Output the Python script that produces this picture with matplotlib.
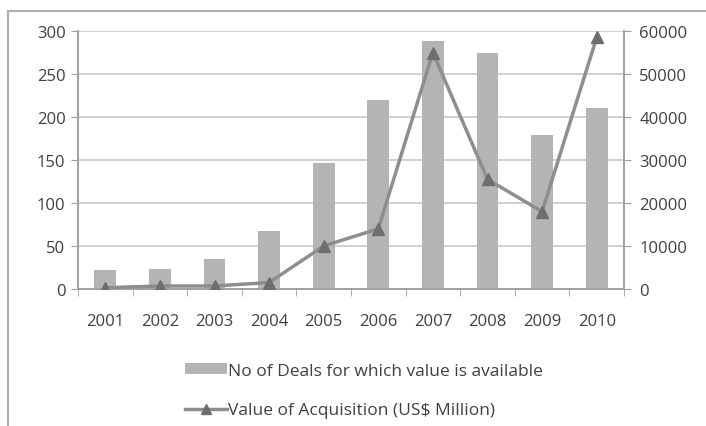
import matplotlib.pyplot as plt
import matplotlib as mpl
from matplotlib.patches import Rectangle
import numpy as np

# data
years = ['2001', '2002', '2003', '2004', '2005', '2006', '2007', '2008', '2009', '2010']
deals = [22, 23, 35, 68, 147, 220, 288, 275, 179, 210]
value = [300, 700, 700, 1500, 10000, 14000, 55000, 25500, 18000, 58500]
left_ticks = [0, 50, 100, 150, 200, 250, 300]
right_ticks = [0, 10000, 20000, 30000, 40000, 50000, 60000]

plt.rcParams['font.family'] = ['Open Sans', 'DejaVu Sans']
plt.rcParams['font.size'] = 12

bar_col = '#b4b4b4'
line_col = '#8e8e8e'
mark_col = '#6e6e6e'
axis_col = '#a0a0a0'
text_col = '#404040'

fig = plt.figure(figsize=(7.06, 4.27), dpi=100)
ax = fig.add_axes([78 / 706, 1 - 290 / 427, 546 / 706, 258 / 427])
ax2 = ax.twinx()

x = np.arange(len(years))
ax.bar(x, deals, width=0.4, color=bar_col, zorder=2, label='No of Deals for which value is available')
ax2.plot(x, value, color=line_col, lw=2.5, marker='^', ms=8.5, mfc=mark_col, mec=mark_col,
         label='Value of Acquisition (US$ Million)', zorder=3)

ax.set_xlim(-0.5, len(years) - 0.5)
ax.set_ylim(0, 300)
ax2.set_ylim(0, 60000)
ax.set_yticks(left_ticks)
ax2.set_yticks(right_ticks)
ax.yaxis.grid(True, color='#c8c8c8', lw=1.2, zorder=0)
ax.set_axisbelow(True)

ax.set_xticks(x)
ax.set_xticklabels(years)
ax.set_xticks(np.arange(-0.5, len(years), 1), minor=True)
ax.tick_params(axis='x', which='major', length=0, pad=17, colors=text_col, labelsize=12)
ax.tick_params(axis='x', which='minor', length=5, color=axis_col, direction='out')
ax.tick_params(axis='y', length=5, color=axis_col, colors=text_col, labelsize=12, pad=4)
ax2.tick_params(axis='y', length=5, color=axis_col, colors=text_col, labelsize=12, pad=6)
for a in (ax, ax2):
    a.spines['top'].set_visible(False)
    for s in ('left', 'right', 'bottom'):
        a.spines[s].set_color(axis_col)
        a.spines[s].set_linewidth(1.2)

# outer frame of the chart area
fig.patches.append(Rectangle((8 / 706, -0.05), 1.0, 1 - 12 / 427 + 0.05, transform=fig.transFigure,
                             fill=False, edgecolor='#b0b0b0', lw=1.5))

h1, l1 = ax.get_legend_handles_labels()
h2, l2 = ax2.get_legend_handles_labels()
fig.legend(h1 + h2, l1 + l2, loc='upper left', bbox_to_anchor=(185 / 706, 1 - 364 / 427),
           frameon=False, fontsize=12.5, labelspacing=1.35, handlelength=2.4, handleheight=0.6,
           handletextpad=0.1, borderpad=0, borderaxespad=0, labelcolor=text_col, markerscale=0.8)

fig.savefig('out.png', dpi=100)
